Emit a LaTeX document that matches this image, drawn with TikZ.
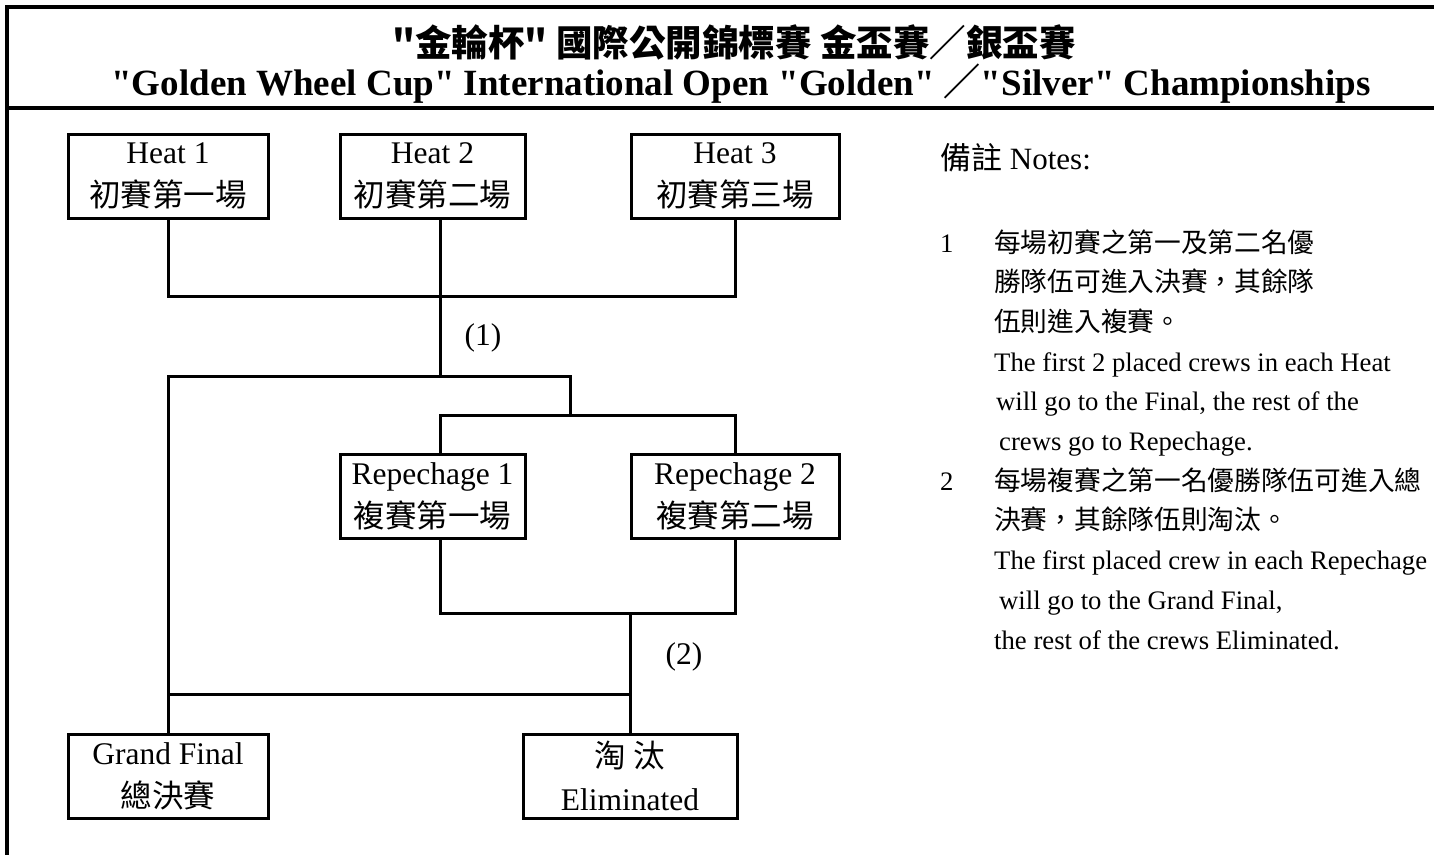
\documentclass[tikz,border=0pt]{standalone}
\usepackage{fontspec}
\setmainfont{Liberation Serif}[Ligatures=TeXOff]
\newfontfamily\cjk{Noto Sans CJK TC}
\tikzset{
  racebox/.style={draw,line width=3pt,align=center,inner sep=0pt,minimum height=84pt,font=\fontsize{31.5}{43}\selectfont},
  link/.style={line width=3pt},
  ruleline/.style={line width=3.5pt},
  numlabel/.style={font=\fontsize{31.5}{40}\selectfont},
  notefont/.style={font=\fontsize{26.7}{39.7}\selectfont},
}
\begin{document}
\begin{tikzpicture}[x=1pt,y=-1pt]
\useasboundingbox (0,0) rectangle (1434,855);
\draw[ruleline] (1434,7)--(7,7)--(7,855) (7,108)--(1434,108);%frame
\node[font=\fontsize{36.5}{40}\selectfont\cjk\bfseries] (titlezh) at (734,42) {"金輪杯" 國際公開錦標賽 金盃賽／銀盃賽};
\node[font=\fontsize{37}{40}\selectfont\bfseries,anchor=base] (titleen) at (741,95) {"Golden Wheel Cup" International Open "Golden" {\cjk ／}"Silver" Championships};
%boxes
\node[racebox,minimum width=200pt] (heat1) at (168,176) {Heat 1\\{\cjk 初賽第一場}};
\node[racebox,minimum width=185pt] (heat2) at (432.5,176) {Heat 2\\{\cjk 初賽第二場}};
\node[racebox,minimum width=208pt] (heat3) at (735,176) {Heat 3\\{\cjk 初賽第三場}};
\node[racebox,minimum width=185pt] (rep1) at (432.5,496) {Repechage 1\\{\cjk 複賽第一場}};
\node[racebox,minimum width=208pt] (rep2) at (735,496) {Repechage 2\\{\cjk 複賽第二場}};
\node[racebox,minimum width=200pt] (gfinal) at (168,776) {Grand Final\\{\cjk 總決賽}};
\node[racebox,minimum width=214pt] (elim) at (630,776) {{\cjk 淘\ 汰}\\Eliminated};
\coordinate (hj) at (440,296);
\coordinate (sp) at (440,376);
\coordinate (rj) at (570,415);
\coordinate (rb) at (630,613);
\coordinate (fj) at (630,694);
%lines
\draw[link] (heat1.south) |- (hj) -| (heat3.south);
\draw[link] (heat2.south -| hj) -- (sp);
\draw[link] (gfinal.north) |- (rj |- sp) -- (rj);
\draw[link] (rep1.north -| sp) |- (rj) -| (rep2.north);
\draw[link] (rep1.south -| sp) |- (rb) -| (rep2.south);
\draw[link] (rb) -- (elim.north);
\draw[link] (fj) -- (fj -| gfinal.north);
\node[numlabel] (lab1) at (483,338) {(1)};
\node[numlabel] (lab2) at (684,657) {(2)};
%notes
\node[font=\fontsize{31}{40}\selectfont,anchor=base west,inner sep=0pt] (notehead) at (940,169) {{\cjk 備註} Notes:};
\node[notefont,anchor=base west,inner sep=0pt] (notes) at (940,252) {\begin{tabular}[t]{@{}p{54pt}@{}l@{}}
1 & {\cjk 每場初賽之第一及第二名優}\\
  & {\cjk 勝隊伍可進入決賽，其餘隊}\\
  & {\cjk 伍則進入複賽。}\\
  & The first 2 placed crews in each Heat\\
  & \hspace{2pt}will go to the Final, the rest of the\\
  & \hspace{5pt}crews go to Repechage.\\
2 & {\cjk 每場複賽之第一名優勝隊伍可進入總}\\
  & {\cjk 決賽，其餘隊伍則淘汰。}\\
  & The first placed crew in each Repechage\\
  & \hspace{5pt}will go to the Grand Final,\\
  & the rest of the crews Eliminated.
\end{tabular}};
\end{tikzpicture}
\end{document}
